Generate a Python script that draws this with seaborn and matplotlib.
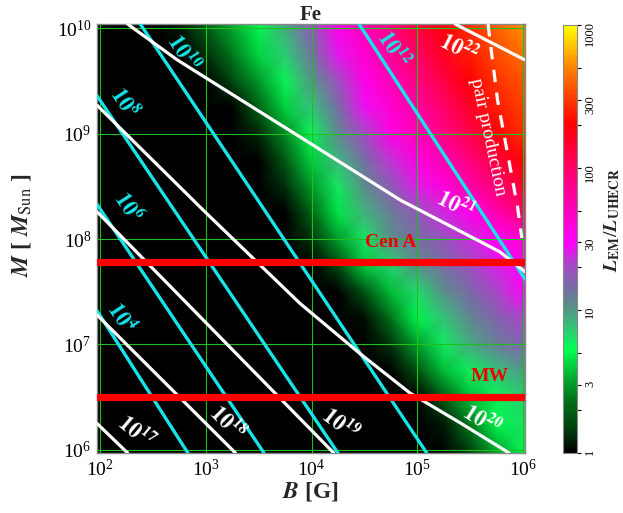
import matplotlib
matplotlib.use("Agg")
import matplotlib.pyplot as plt
import numpy as np
import pandas as pd
import seaborn as sns
from matplotlib.colors import LinearSegmentedColormap, LogNorm
from matplotlib.ticker import FixedLocator, NullLocator, LogFormatterMathtext


log_b_nodes = [1.97, 2.25, 2.5, 2.75, 3.0, 3.25, 3.5, 3.75, 4.0,
               4.25, 4.5, 4.75, 5.0, 5.25, 5.5, 5.75, 6.02]
log_m_nodes = [5.97, 6.25, 6.5, 6.75, 7.0, 7.25, 7.5, 7.75, 8.0,
               8.25, 8.5, 8.75, 9.0, 9.25, 9.5, 9.75, 10.04]

# log10(L_EM / L_UHECR), one row per mass node, bottom to top
log_ratio = [
    [0] * 14 + [0.16, 0.50, 0.74],
    [0] * 13 + [0.08, 0.39, 0.70, 0.80],
    [0] * 13 + [0.29, 0.58, 0.76, 0.87],
    [0] * 12 + [0.24, 0.57, 0.77, 0.88, 1.00],
    [0] * 11 + [0.14, 0.49, 0.78, 0.96, 1.10, 1.21],
    [0] * 10 + [0.04, 0.37, 0.70, 0.89, 1.06, 1.19, 1.33],
    [0] * 10 + [0.25, 0.57, 0.83, 1.03, 1.18, 1.32, 1.47],
    [0] * 9 + [0.22, 0.60, 0.84, 1.03, 1.15, 1.28, 1.40, 1.52],
    [0] * 8 + [0.14, 0.49, 0.80, 1.03, 1.14, 1.26, 1.38, 1.50, 1.65],
    [0] * 8 + [0.31, 0.66, 0.93, 1.10, 1.24, 1.39, 1.54, 1.75, 1.96],
    [0] * 7 + [0.12, 0.47, 0.79, 1.04, 1.22, 1.41, 1.60, 1.78, 1.96, 2.16],
    [0] * 7 + [0.28, 0.62, 0.92, 1.16, 1.37, 1.57, 1.75, 1.93, 2.12, 2.32],
    [0] * 6 + [0.11, 0.44, 0.76, 1.05, 1.31, 1.55, 1.72, 1.90, 2.08, 2.28, 2.44],
    [0] * 6 + [0.31, 0.61, 0.89, 1.16, 1.43, 1.64, 1.81, 1.99, 2.18, 2.38, 2.50],
    [0] * 5 + [0.21, 0.48, 0.75, 1.00, 1.28, 1.54, 1.73, 1.91, 2.10, 2.29, 2.45, 2.56],
    [0] * 4 + [0.12, 0.38, 0.63, 0.86, 1.12, 1.42, 1.64, 1.83, 2.01, 2.20, 2.39, 2.52, 2.65],
    [0] * 3 + [0.06, 0.29, 0.52, 0.74, 0.96, 1.25, 1.54, 1.73, 1.92, 2.11, 2.29, 2.46, 2.60, 2.75],
]

# cyan contours (exponents) as polylines in log10 units
cyan_exps = ['4', '6', '8', '10', '12']
cyan_log_b = [[1.97, 2.83], [1.97, 3.55], [1.97, 4.25], [2.38, 5.09], [4.45, 6.02]]
cyan_log_m = [[7.32, 5.97], [8.33, 5.97], [9.36, 5.97], [10.04, 5.97], [10.04, 7.62]]

# white contours
white_exps = ['17', '18', '19', '20', '21', '22']
white_log_b = [[1.97, 2.26], [1.97, 3.28], [1.97, 4.21],
               [1.97, 3.0, 3.89, 4.45, 4.93, 5.4, 5.87],
               [2.26, 2.73, 3.89, 4.84, 5.78, 6.02],
               [5.36, 6.02]]
white_log_m = [[6.25, 5.97], [7.28, 5.97], [8.26, 5.97],
               [9.27, 8.25, 7.39, 6.92, 6.54, 6.26, 5.97],
               [10.04, 9.70, 8.97, 8.37, 7.88, 7.69],
               [10.04, 9.70]]

# pair production limit (dashed)
pair_log_b = [5.67, 5.76, 5.85, 5.95, 5.99]
pair_log_m = [10.04, 9.32, 8.84, 8.30, 8.01]

source_names = ['Cen A', 'MW']
source_masses = [6.0e7, 3.2e6]

cbar_ticks = [1, 3, 10, 30, 100, 300, 1000]


def lines_frame(names, bs, ms):
    rows = []
    for name, b, m in zip(names, bs, ms):
        for lb, lm in zip(b, m):
            rows.append({'line': name, 'B': 10 ** lb, 'M': 10 ** lm})
    return pd.DataFrame(rows)


sns.set_theme(style='white')
plt.rcParams['font.family'] = ['Liberation Serif', 'DejaVu Serif']
plt.rcParams['mathtext.fontset'] = 'stix'

cmap = LinearSegmentedColormap.from_list('lem', [
    (0.00, '#000000'), (0.05, '#003a0e'), (0.12, '#007018'), (0.18, '#00b232'),
    (0.24, '#00ff50'), (0.29, '#30c878'), (0.34, '#5a9088'), (0.39, '#7a6aa8'),
    (0.44, '#a848c8'), (0.49, '#ff00ff'), (0.64, '#ff0080'), (0.77, '#ff0000'),
    (0.83, '#ff3c00'), (0.90, '#ff8000'), (1.00, '#ffff00')])
norm = LogNorm(vmin=1, vmax=1000)

fig = plt.figure(figsize=(6.23, 5.13), dpi=100)
ax = fig.add_axes([0.1557, 0.117, 0.687, 0.836])
cax = fig.add_axes([0.9037, 0.117, 0.0225, 0.834])

ax.set_xscale('log')
ax.set_yscale('log')
mesh = ax.pcolormesh(10 ** np.array(log_b_nodes), 10 ** np.array(log_m_nodes),
                     10 ** np.array(log_ratio), shading='gouraud', cmap=cmap, norm=norm,
                     zorder=1)

ax.set_axisbelow(False)
ax.grid(True, which='major', color='#1fbf1f', lw=0.8)

# contour lines
sns.lineplot(data=lines_frame(cyan_exps, cyan_log_b, cyan_log_m), x='B', y='M',
             units='line', estimator=None, sort=False, color='#17e3e8', lw=2.4,
             legend=False, ax=ax, zorder=3)
sns.lineplot(data=lines_frame(white_exps, white_log_b, white_log_m), x='B', y='M',
             units='line', estimator=None, sort=False, color='white', lw=2.3,
             legend=False, ax=ax, zorder=3)
sns.lineplot(x=10 ** np.array(pair_log_b), y=10 ** np.array(pair_log_m), sort=False,
             color='white', lw=2.3, ls=(0, (3.9, 3.3)), ax=ax, zorder=3)

for mass in source_masses:
    ax.axhline(mass, color='#ff0000', lw=5.2, zorder=4)

# labels
cyan_spots = [(2.20, 7.26), (2.255, 8.30), (2.227, 9.30), (2.785, 9.77), (4.77, 9.81)]
for exp, (lb, lm) in zip(cyan_exps, cyan_spots):
    ax.text(10 ** lb, 10 ** lm, r'$\mathbf{10^{%s}}$' % exp, color='#17e3e8', fontsize=16,
            rotation=-57, ha='center', va='center', rotation_mode='anchor', zorder=5)

white_spots = [(2.34, 6.17, -40), (3.2, 6.26, -45), (4.27, 6.24, -38),
               (5.61, 6.28, -32), (5.36, 8.32, -27), (5.39, 9.81, -27)]
for exp, (lb, lm, rot) in zip(white_exps, white_spots):
    ax.text(10 ** lb, 10 ** lm, r'$\mathbf{10^{%s}}$' % exp, color='white', fontsize=16,
            rotation=rot, ha='center', va='center', rotation_mode='anchor', zorder=5)

ax.text(10 ** 5.67, 10 ** 8.97, 'pair production', color='white', fontsize=14,
        rotation=-78, ha='center', va='center', rotation_mode='anchor', zorder=5)

for name, mass, lb in zip(source_names, source_masses, [4.75, 5.69]):
    ax.text(10 ** lb, mass * 10 ** 0.19, name, color='#ee0000', fontsize=14,
            fontweight='bold', ha='center', va='center', zorder=5)

ax.set_xlim(10 ** 1.97, 10 ** 6.02)
ax.set_ylim(10 ** 5.97, 10 ** 10.04)
ax.xaxis.set_major_locator(FixedLocator([1e2, 1e3, 1e4, 1e5, 1e6]))
ax.yaxis.set_major_locator(FixedLocator([1e6, 1e7, 1e8, 1e9, 1e10]))
ax.xaxis.set_major_formatter(LogFormatterMathtext())
ax.yaxis.set_major_formatter(LogFormatterMathtext())
ax.xaxis.set_minor_locator(NullLocator())
ax.yaxis.set_minor_locator(NullLocator())
ax.tick_params(which='both', length=0, labelsize=14, colors='black', pad=4)
for sp in ax.spines.values():
    sp.set_color('#888888')
    sp.set_linewidth(1.0)

ax.set_title('Fe', fontsize=15, fontweight='bold', pad=3)
ax.set_xlabel(r'$\mathbfit{B}$ [G]', fontsize=17, fontweight='bold')
ax.xaxis.set_label_coords(0.498, -0.062)
ax.set_ylabel(r'$\mathbfit{M}$ [ $\mathbfit{M}_{\mathrm{Sun}}$ ]', fontsize=17,
              fontweight='bold')
ax.yaxis.set_label_coords(-0.15, 0.53)

cb = fig.colorbar(mesh, cax=cax)
cb.set_ticks(cbar_ticks)
cb.set_ticklabels([str(t) for t in cbar_ticks])
cax.yaxis.set_minor_locator(FixedLocator([2, 5, 20, 50, 200, 500]))
cax.tick_params(which='both', length=3, width=0.8, labelsize=9, labelrotation=90,
                pad=2, colors='black')
cb.outline.set_edgecolor('#888888')
cb.outline.set_linewidth(0.8)
cb.set_label(r'$\mathbfit{L}_{\mathbf{EM}}/\mathbfit{L}_{\mathbf{UHECR}}$', fontsize=14)
cax.yaxis.set_label_coords(2.8, 0.544)

fig.savefig('out.png', dpi=100)
